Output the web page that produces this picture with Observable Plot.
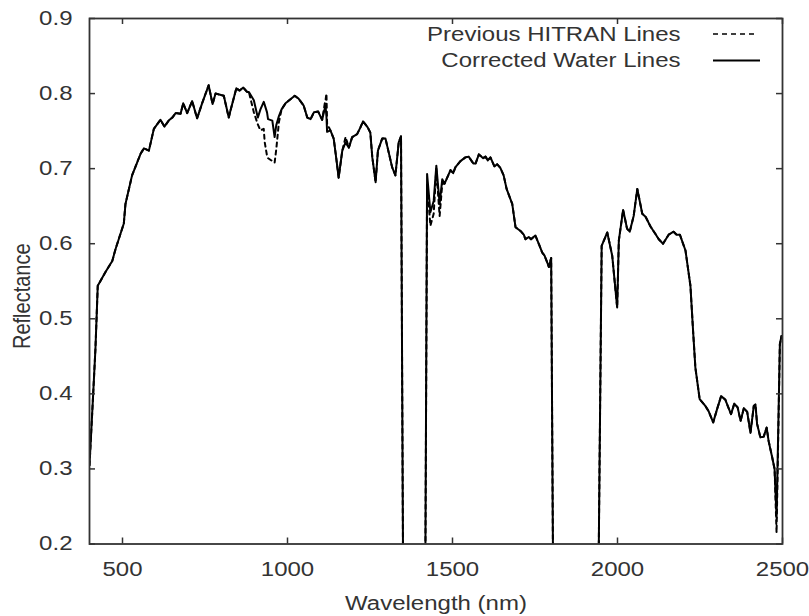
<!DOCTYPE html>
<html><head><meta charset="utf-8">
<script src="https://cdn.jsdelivr.net/npm/d3@7"></script>
<script src="https://cdn.jsdelivr.net/npm/@observablehq/plot@0.6"></script>
<style>body{margin:0;background:#fff} svg{display:block}</style>
</head><body><div id="chart"></div>
<script>
const wavelength = [
  400,410,418,425,448,469,479,504,509,529,
  555,565,580,595,615,627,640,651,661,676,
  684,696,711,726,742,761,773,782,807,822,
  827,845,855,866,878,883,898,910,918,928,
  931,938,941,954,961,966,974,982,994,1022,
  1034,1049,1060,1070,1080,1093,1105,1113,1115,1118,
  1120,1130,1140,1148,1155,1166,1176,1186,1196,1211,
  1221,1229,1243,1251,1257,1267,1274,1287,1297,1317,
  1327,1337,1344,1352,1416,1423,1433,1443,1451,1461,
  1469,1476,1484,1494,1502,1509,1524,1539,1549,1563,
  1570,1580,1593,1600,1607,1615,1627,1635,1645,1655,
  1664,1681,1691,1706,1716,1721,1731,1738,1751,1764,
  1772,1779,1787,1792,1799,1807,1939,1952,1969,1984,
  1999,2004,2017,2029,2037,2049,2060,2075,2085,2100,
  2115,2125,2138,2155,2170,2179,2189,2206,2221,2229,
  2236,2249,2266,2276,2290,2302,2314,2327,2334,2344,
  2354,2364,2373,2383,2393,2403,2413,2418,2423,2433,
  2443,2452,2458,2469,2476,2482,2492,2497
];
const corrected = [
  .305,.390,.460,.544,.562,.577,.593,.627,.653,.691,
  .720,.727,.724,.753,.765,.756,.764,.768,.774,.773,
  .787,.774,.790,.767,.788,.811,.786,.800,.797,.768,
  .777,.807,.804,.808,.802,.802,.791,.768,.779,.789,
  .785,.775,.766,.764,.742,.758,.770,.779,.787,.797,
  .793,.784,.768,.766,.775,.776,.765,.780,.784,.770,
  .749,.751,.740,.713,.688,.724,.735,.728,.742,.746,
  .755,.763,.755,.748,.715,.682,.724,.740,.740,.702,
  .691,.735,.743,0,0,.693,.642,.657,.704,.653,
  .686,.680,.688,.698,.694,.702,.710,.715,.716,.707,
  .707,.719,.714,.716,.711,.715,.703,.706,.701,.691,
  .673,.653,.622,.617,.612,.606,.609,.606,.611,.597,
  .588,.584,.575,.569,.581,0,0,.597,.615,.584,
  .515,.604,.645,.620,.616,.637,.673,.640,.636,.623,
  .613,.606,.600,.612,.616,.612,.612,.591,.544,.484,
  .435,.393,.384,.377,.362,.380,.397,.392,.384,.373,
  .387,.382,.364,.381,.376,.348,.384,.386,.360,.342,
  .343,.355,.337,.315,.300,.235,.466,.477
];
const previous = [
  .305,.390,.460,.544,.562,.577,.593,.627,.653,.691,
  .720,.727,.724,.753,.765,.756,.764,.768,.774,.773,
  .787,.774,.790,.767,.788,.811,.786,.800,.797,.768,
  .777,.807,.804,.808,.802,.802,.775,.759,.751,.753,
  .735,.717,.714,.710,.708,.726,.762,.779,.787,.797,
  .793,.784,.768,.766,.775,.776,.765,.787,.790,.800,
  .760,.751,.740,.713,.688,.724,.742,.728,.742,.746,
  .755,.763,.755,.748,.715,.682,.724,.740,.740,.702,
  .691,.735,.743,0,0,.680,.624,.640,.700,.637,
  .680,.680,.688,.698,.694,.702,.710,.715,.716,.707,
  .707,.719,.714,.716,.711,.715,.703,.706,.701,.691,
  .673,.653,.622,.617,.612,.606,.609,.606,.611,.597,
  .588,.584,.575,.569,.581,0,0,.597,.615,.584,
  .515,.604,.645,.620,.616,.637,.673,.640,.636,.623,
  .613,.606,.600,.612,.616,.612,.612,.591,.544,.484,
  .435,.393,.384,.377,.362,.380,.397,.392,.384,.373,
  .387,.382,.364,.381,.376,.348,.384,.386,.360,.342,
  .343,.355,.337,.315,.300,.215,.466,.477
];
const xTicks = [500, 1000, 1500, 2000, 2500];
const yTicks = [0.2, 0.3, 0.4, 0.5, 0.6, 0.7, 0.8, 0.9];
const seriesNames = ["Previous HITRAN Lines", "Corrected Water Lines"];
const xLabel = "Wavelength (nm)";
const yLabel = "Reflectance";

const rows = wavelength.map((w, i) => ({w, corrected: corrected[i], previous: previous[i]}));

const W = 809, H = 616, mL = 89, mR = 27, mT = 18, mB = 72.5;
const innerH = H - mT - mB;
const tick = 6;
const ink = "#333";

const svg = Plot.plot({
  width: W, height: H,
  marginLeft: mL, marginRight: mR, marginTop: mT, marginBottom: mB,
  x: {domain: [400, 2500]},
  y: {domain: [0.2, 0.9]},
  style: {fontFamily: "'Liberation Sans', Arial, sans-serif", fontSize: "20px", color: ink, background: "#fff"},
  marks: [
    Plot.lineY(rows, {x: "w", y: "previous", stroke: "#000", strokeWidth: 2, strokeDasharray: "4,4", clip: true}),
    Plot.lineY(rows, {x: "w", y: "corrected", stroke: "#000", strokeWidth: 2, clip: true}),
    Plot.tickX(xTicks, {x: d => d, stroke: ink, strokeWidth: 1.5, insetTop: innerH - tick}),
    Plot.tickX(xTicks, {x: d => d, stroke: ink, strokeWidth: 1.5, insetBottom: innerH - tick}),
    Plot.tickY(yTicks, {y: d => d, stroke: ink, strokeWidth: 1.5, insetRight: (W - mL - mR) - tick}),
    Plot.tickY(yTicks, {y: d => d, stroke: ink, strokeWidth: 1.5, insetLeft: (W - mL - mR) - tick}),
    Plot.frame({stroke: ink, strokeWidth: 1.8}),
    Plot.axisX({ticks: xTicks, tickSize: 0, tickPadding: 18, label: null, fill: ink, tickFormat: d => String(d)}),
    Plot.axisY({ticks: yTicks, tickSize: 0, tickPadding: 17, label: null, fill: ink, tickFormat: d => d.toFixed(1)}),
    Plot.text([xLabel], {text: d => d, frameAnchor: "bottom", lineAnchor: "middle", dy: 60, fill: ink}),
    Plot.text([yLabel], {text: d => d, frameAnchor: "left", textAnchor: "middle", lineAnchor: "middle", rotate: -90, dx: -67, dy: 15, fill: ink, className: "ylab"}),
    Plot.text([seriesNames[0]], {text: d => d, frameAnchor: "top-right", textAnchor: "end", lineAnchor: "middle", dx: -102, dy: 16, fill: ink}),
    Plot.text([seriesNames[1]], {text: d => d, frameAnchor: "top-right", textAnchor: "end", lineAnchor: "middle", dx: -102, dy: 42, fill: ink})
  ]
});
document.getElementById("chart").appendChild(svg);

// legend samples
const s = d3.select(svg);
s.append("line").attr("x1", 713).attr("x2", 756).attr("y1", 34).attr("y2", 34)
  .attr("stroke", "#000").attr("stroke-width", 1.6).attr("stroke-dasharray", "5,4");
s.append("line").attr("x1", 713).attr("x2", 760).attr("y1", 60.5).attr("y2", 60.5)
  .attr("stroke", "#000").attr("stroke-width", 1.8);

// the reference text is horizontally widened
const K = 1.2;
svg.querySelectorAll("text").forEach(t => {
  if (t.closest(".ylab")) {
    const tr = t.getAttribute("transform") || "";
    t.setAttribute("transform", tr + " scale(1," + K + ")");
    return;
  }
  const len = t.getComputedTextLength();
  t.setAttribute("textLength", (len * K).toFixed(1));
  t.setAttribute("lengthAdjust", "spacingAndGlyphs");
});
</script>
</body></html>
